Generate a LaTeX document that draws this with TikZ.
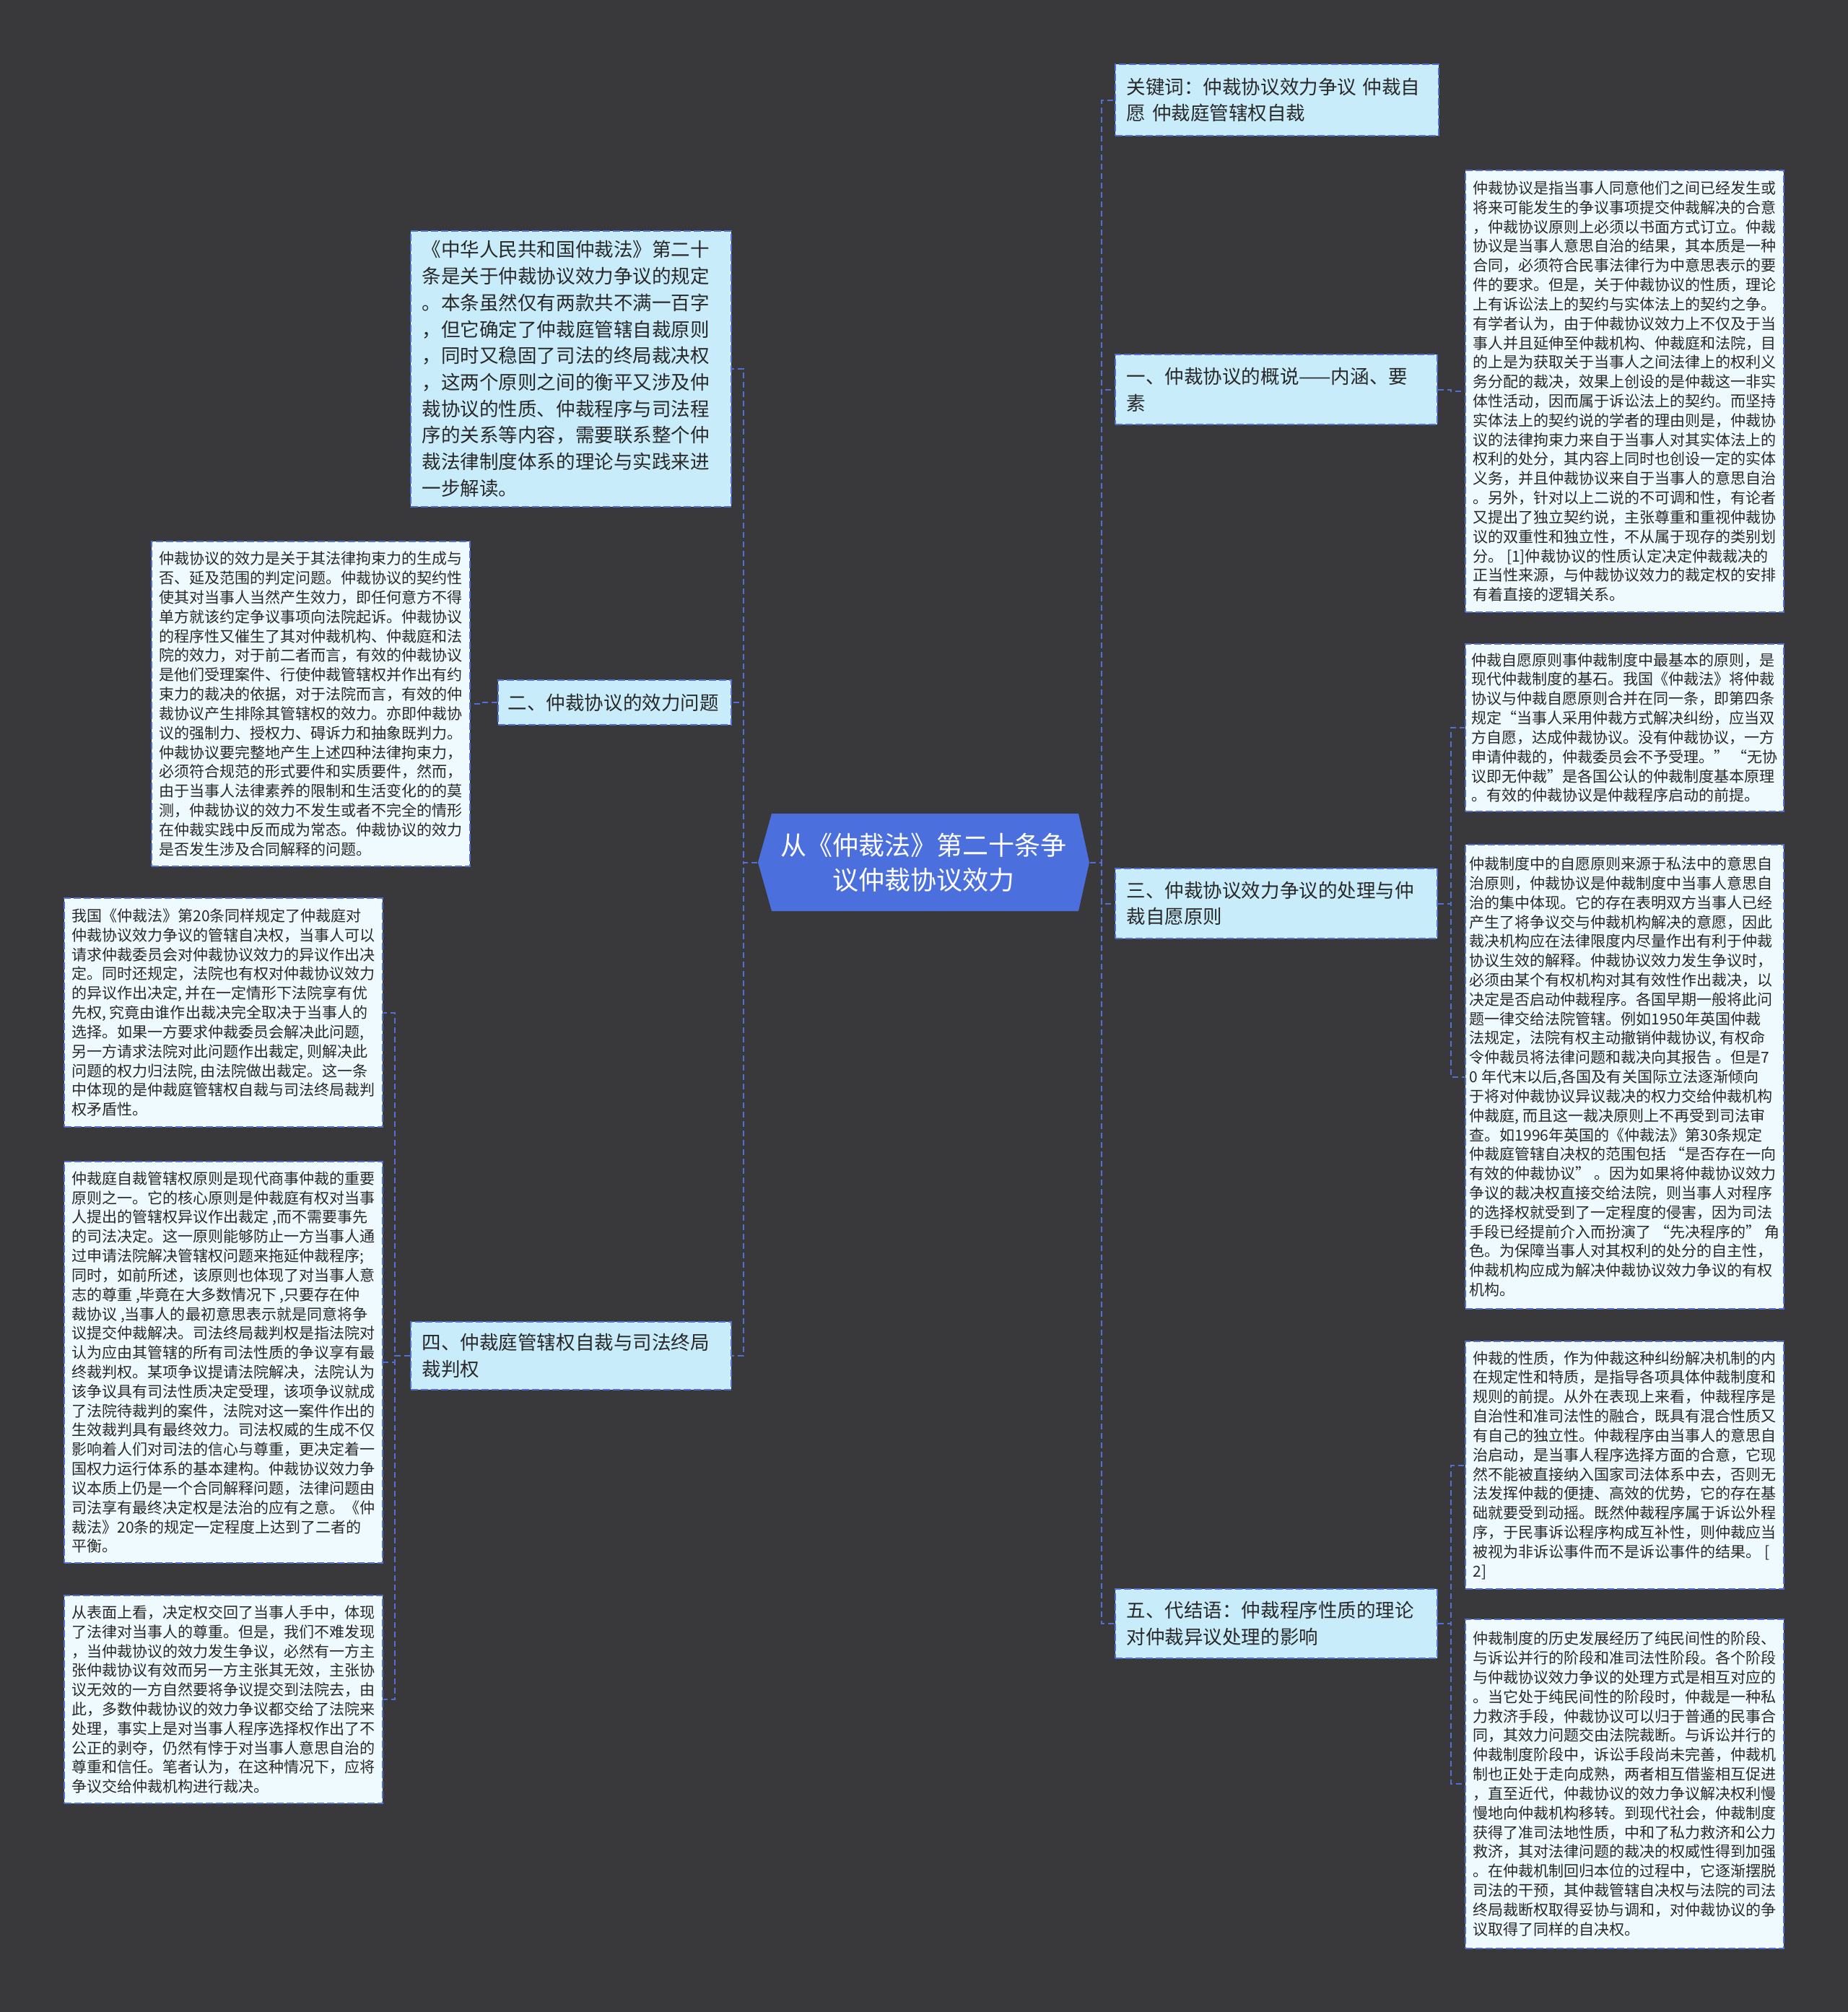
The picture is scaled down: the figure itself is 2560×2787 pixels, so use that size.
\documentclass[tikz,border=0pt]{standalone}
\usepackage{fontspec}
\setmainfont{Noto Sans CJK SC}
\usepackage{tikz}

\definecolor{bgdark}{RGB}{57,57,59}
\definecolor{rootblue}{RGB}{76,111,222}
\definecolor{linkblue}{RGB}{82,112,212}
\definecolor{topicfill}{RGB}{201,236,251}
\definecolor{notefill}{RGB}{239,250,254}
\definecolor{ink}{RGB}{40,40,40}

\begin{document}
\begin{tikzpicture}[
    x=0.01cm, y=-0.01cm,
    link/.style={draw=linkblue, line width=0.02cm, dash pattern=on 0.08cm off 0.05cm},
    root/.style={text=white, font=\fontsize{0.36cm}{0.48cm}\selectfont, align=center,
        inner sep=0pt, minimum width=4.59cm, minimum height=1.35cm},
    topic/.style={draw=linkblue, line width=0.02cm, dash pattern=on 0.1cm off 0.04cm,
        fill=topicfill, text=ink, font=\fontsize{0.265cm}{0.367cm}\selectfont,
        align=left, text width=4.14cm, inner xsep=0.16cm, inner ysep=0.04cm,
        minimum height=0.96cm},
    note/.style={draw=linkblue, line width=0.02cm, dash pattern=on 0.1cm off 0.04cm,
        fill=notefill, text=ink, font=\fontsize{0.21cm}{0.268cm}\selectfont,
        align=left, inner sep=0.04cm, minimum width=4.41cm}
]

    % page
    \useasboundingbox (0,0) rectangle (2560,2787);
    \fill[bgdark] (0,0) rectangle (2560,2787);

    % central topic
    \fill[rootblue] (1050,1194.5) -- (1069,1127) -- (1494,1127) -- (1509,1194.5)
        -- (1494,1262) -- (1069,1262) -- cycle;
    \node[root] (c) at (1279.5,1194.5) {从《仲裁法》第二十条争\\议仲裁协议效力};

    % right branches
    \node[topic, text width=4.16cm, minimum height=0.99cm] (k0) at (1769,138.5) {关键词：仲裁协议效力争议 仲裁自\\愿 仲裁庭管辖权自裁};
    \node[topic] (k1) at (1768,539.5) {一、仲裁协议的概说——内涵、要\\素};
    \node[topic] (k3) at (1768,1251.5) {三、仲裁协议效力争议的处理与仲\\裁自愿原则};
    \node[topic] (k5) at (1768,2249) {五、代结语：仲裁程序性质的理论\\对仲裁异议处理的影响};

    % left branches
    \node[topic, text width=4.12cm, minimum height=3.82cm] (t0) at (791,511) {《中华人民共和国仲裁法》第二十\\条是关于仲裁协议效力争议的规定\\。本条虽然仅有两款共不满一百字\\，但它确定了仲裁庭管辖自裁原则\\，同时又稳固了司法的终局裁决权\\，这两个原则之间的衡平又涉及仲\\裁协议的性质、仲裁程序与司法程\\序的关系等内容，需要联系整个仲\\裁法律制度体系的理论与实践来进\\一步解读。};
    \node[topic, text width=2.95cm, inner xsep=0.14cm, minimum height=0.62cm] (t2) at (851.5,973) {二、仲裁协议的效力问题};
    \node[topic, text width=4.12cm, minimum height=0.94cm] (t4) at (791,1878) {四、仲裁庭管辖权自裁与司法终局\\裁判权};

    % right notes
    \node[note, minimum height=6.12cm] (r1) at (2250.5,542) {仲裁协议是指当事人同意他们之间已经发生或\\将来可能发生的争议事项提交仲裁解决的合意\\，仲裁协议原则上必须以书面方式订立。仲裁\\协议是当事人意思自治的结果，其本质是一种\\合同，必须符合民事法律行为中意思表示的要\\件的要求。但是，关于仲裁协议的性质，理论\\上有诉讼法上的契约与实体法上的契约之争。\\有学者认为，由于仲裁协议效力上不仅及于当\\事人并且延伸至仲裁机构、仲裁庭和法院，目\\的上是为获取关于当事人之间法律上的权利义\\务分配的裁决，效果上创设的是仲裁这一非实\\体性活动，因而属于诉讼法上的契约。而坚持\\实体法上的契约说的学者的理由则是，仲裁协\\议的法律拘束力来自于当事人对其实体法上的\\权利的处分，其内容上同时也创设一定的实体\\义务，并且仲裁协议来自于当事人的意思自治\\。另外，针对以上二说的不可调和性，有论者\\又提出了独立契约说，主张尊重和重视仲裁协\\议的双重性和独立性，不从属于现存的类别划\\分。 [1]仲裁协议的性质认定决定仲裁裁决的\\正当性来源，与仲裁协议效力的裁定权的安排\\有着直接的逻辑关系。};
    \node[note, minimum height=2.32cm] (r2) at (2250.5,1008) {仲裁自愿原则事仲裁制度中最基本的原则，是\\现代仲裁制度的基石。我国《仲裁法》将仲裁\\协议与仲裁自愿原则合并在同一条，即第四条\\规定“当事人采用仲裁方式解决纠纷，应当双\\方自愿，达成仲裁协议。没有仲裁协议，一方\\申请仲裁的，仲裁委员会不予受理。” “无协\\议即无仲裁”是各国公认的仲裁制度基本原理\\。有效的仲裁协议是仲裁程序启动的前提。};
    \node[note, minimum height=6.43cm] (r3) at (2250.5,1491.5) {仲裁制度中的自愿原则来源于私法中的意思自\\治原则，仲裁协议是仲裁制度中当事人意思自\\治的集中体现。它的存在表明双方当事人已经\\产生了将争议交与仲裁机构解决的意愿，因此\\裁决机构应在法律限度内尽量作出有利于仲裁\\协议生效的解释。仲裁协议效力发生争议时，\\必须由某个有权机构对其有效性作出裁决，以\\决定是否启动仲裁程序。各国早期一般将此问\\题一律交给法院管辖。例如1950年英国仲裁\\法规定，法院有权主动撤销仲裁协议, 有权命\\令仲裁员将法律问题和裁决向其报告 。但是7\\0 年代末以后,各国及有关国际立法逐渐倾向\\于将对仲裁协议异议裁决的权力交给仲裁机构\\仲裁庭, 而且这一裁决原则上不再受到司法审\\查。如1996年英国的《仲裁法》第30条规定\\仲裁庭管辖自决权的范围包括 “是否存在一向\\有效的仲裁协议” 。因为如果将仲裁协议效力\\争议的裁决权直接交给法院，则当事人对程序\\的选择权就受到了一定程度的侵害，因为司法\\手段已经提前介入而扮演了 “先决程序的” 角\\色。为保障当事人对其权利的处分的自主性，\\仲裁机构应成为解决仲裁协议效力争议的有权\\机构。};
    \node[note, minimum height=3.43cm] (r4) at (2250.5,2029.5) {仲裁的性质，作为仲裁这种纠纷解决机制的内\\在规定性和特质，是指导各项具体仲裁制度和\\规则的前提。从外在表现上来看，仲裁程序是\\自治性和准司法性的融合，既具有混合性质又\\有自己的独立性。仲裁程序由当事人的意思自\\治启动，是当事人程序选择方面的合意，它现\\然不能被直接纳入国家司法体系中去，否则无\\法发挥仲裁的便捷、高效的优势，它的存在基\\础就要受到动摇。既然仲裁程序属于诉讼外程\\序，于民事诉讼程序构成互补性，则仲裁应当\\被视为非诉讼事件而不是诉讼事件的结果。 [\\2]};
    \node[note, minimum height=4.56cm] (r5) at (2250.5,2471) {仲裁制度的历史发展经历了纯民间性的阶段、\\与诉讼并行的阶段和准司法性阶段。各个阶段\\与仲裁协议效力争议的处理方式是相互对应的\\。当它处于纯民间性的阶段时，仲裁是一种私\\力救济手段，仲裁协议可以归于普通的民事合\\同，其效力问题交由法院裁断。与诉讼并行的\\仲裁制度阶段中，诉讼手段尚未完善，仲裁机\\制也正处于走向成熟，两者相互借鉴相互促进\\，直至近代，仲裁协议的效力争议解决权利慢\\慢地向仲裁机构移转。到现代社会，仲裁制度\\获得了准司法地性质，中和了私力救济和公力\\救济，其对法律问题的裁决的权威性得到加强\\。在仲裁机制回归本位的过程中，它逐渐摆脱\\司法的干预，其仲裁管辖自决权与法院的司法\\终局裁断权取得妥协与调和，对仲裁协议的争\\议取得了同样的自决权。};

    % left notes
    \node[note, minimum height=4.50cm] (l2) at (430.5,975) {仲裁协议的效力是关于其法律拘束力的生成与\\否、延及范围的判定问题。仲裁协议的契约性\\使其对当事人当然产生效力，即任何意方不得\\单方就该约定争议事项向法院起诉。仲裁协议\\的程序性又催生了其对仲裁机构、仲裁庭和法\\院的效力，对于前二者而言，有效的仲裁协议\\是他们受理案件、行使仲裁管辖权并作出有约\\束力的裁决的依据，对于法院而言，有效的仲\\裁协议产生排除其管辖权的效力。亦即仲裁协\\议的强制力、授权力、碍诉力和抽象既判力。\\仲裁协议要完整地产生上述四种法律拘束力，\\必须符合规范的形式要件和实质要件，然而，\\由于当事人法律素养的限制和生活变化的的莫\\测，仲裁协议的效力不发生或者不完全的情形\\在仲裁实践中反而成为常态。仲裁协议的效力\\是否发生涉及合同解释的问题。};
    \node[note, minimum height=3.17cm] (l4a) at (309.5,1402.5) {我国《仲裁法》第20条同样规定了仲裁庭对\\仲裁协议效力争议的管辖自决权，当事人可以\\请求仲裁委员会对仲裁协议效力的异议作出决\\定。同时还规定，法院也有权对仲裁协议效力\\的异议作出决定, 并在一定情形下法院享有优\\先权, 究竟由谁作出裁决完全取决于当事人的\\选择。如果一方要求仲裁委员会解决此问题,\\另一方请求法院对此问题作出裁定, 则解决此\\问题的权力归法院, 由法院做出裁定。这一条\\中体现的是仲裁庭管辖权自裁与司法终局裁判\\权矛盾性。};
    \node[note, minimum height=5.56cm] (l4b) at (309.5,1887) {仲裁庭自裁管辖权原则是现代商事仲裁的重要\\原则之一。它的核心原则是仲裁庭有权对当事\\人提出的管辖权异议作出裁定 ,而不需要事先\\的司法决定。这一原则能够防止一方当事人通\\过申请法院解决管辖权问题来拖延仲裁程序;\\同时，如前所述，该原则也体现了对当事人意\\志的尊重 ,毕竟在大多数情况下 ,只要存在仲\\裁协议 ,当事人的最初意思表示就是同意将争\\议提交仲裁解决。司法终局裁判权是指法院对\\认为应由其管辖的所有司法性质的争议享有最\\终裁判权。某项争议提请法院解决，法院认为\\该争议具有司法性质决定受理，该项争议就成\\了法院待裁判的案件，法院对这一案件作出的\\生效裁判具有最终效力。司法权威的生成不仅\\影响着人们对司法的信心与尊重，更决定着一\\国权力运行体系的基本建构。仲裁协议效力争\\议本质上仍是一个合同解释问题，法律问题由\\司法享有最终决定权是法治的应有之意。《仲\\裁法》20条的规定一定程度上达到了二者的\\平衡。};
    \node[note, minimum height=2.88cm] (l4c) at (309.5,2354) {从表面上看，决定权交回了当事人手中，体现\\了法律对当事人的尊重。但是，我们不难发现\\，当仲裁协议的效力发生争议，必然有一方主\\张仲裁协议有效而另一方主张其无效，主张协\\议无效的一方自然要将争议提交到法院去，由\\此，多数仲裁协议的效力争议都交给了法院来\\处理，事实上是对当事人程序选择权作出了不\\公正的剥夺，仍然有悖于对当事人意思自治的\\尊重和信任。笔者认为，在这种情况下，应将\\争议交给仲裁机构进行裁决。};

    % connectors, center to branches
    \draw[link] (c.east) -- ++(16,0) |- (k0.west);
    \draw[link] (c.east) -- ++(16,0) |- (k1.west);
    \draw[link] (c.east) -- ++(16,0) |- (k3.west);
    \draw[link] (c.east) -- ++(16,0) |- (k5.west);
    \draw[link] (c.west) -- ++(-19,0) |- (t0.east);
    \draw[link] (c.west) -- ++(-19,0) |- (t2.east);
    \draw[link] (c.west) -- ++(-19,0) |- (t4.east);

    % connectors, branches to notes
    \draw[link] (k1.east) -- ++(18,0) |- (r1.west);
    \draw[link] (k3.east) -- ++(18,0) |- (r2.west);
    \draw[link] (k3.east) -- ++(18,0) |- (r3.west);
    \draw[link] (k5.east) -- ++(18,0) |- (r4.west);
    \draw[link] (k5.east) -- ++(18,0) |- (r5.west);
    \draw[link] (t2.west) -- ++(-20,0) |- (l2.east);
    \draw[link] (t4.west) -- ++(-21,0) |- (l4a.east);
    \draw[link] (t4.west) -- ++(-21,0) |- (l4b.east);
    \draw[link] (t4.west) -- ++(-21,0) |- (l4c.east);

\end{tikzpicture}
\end{document}
